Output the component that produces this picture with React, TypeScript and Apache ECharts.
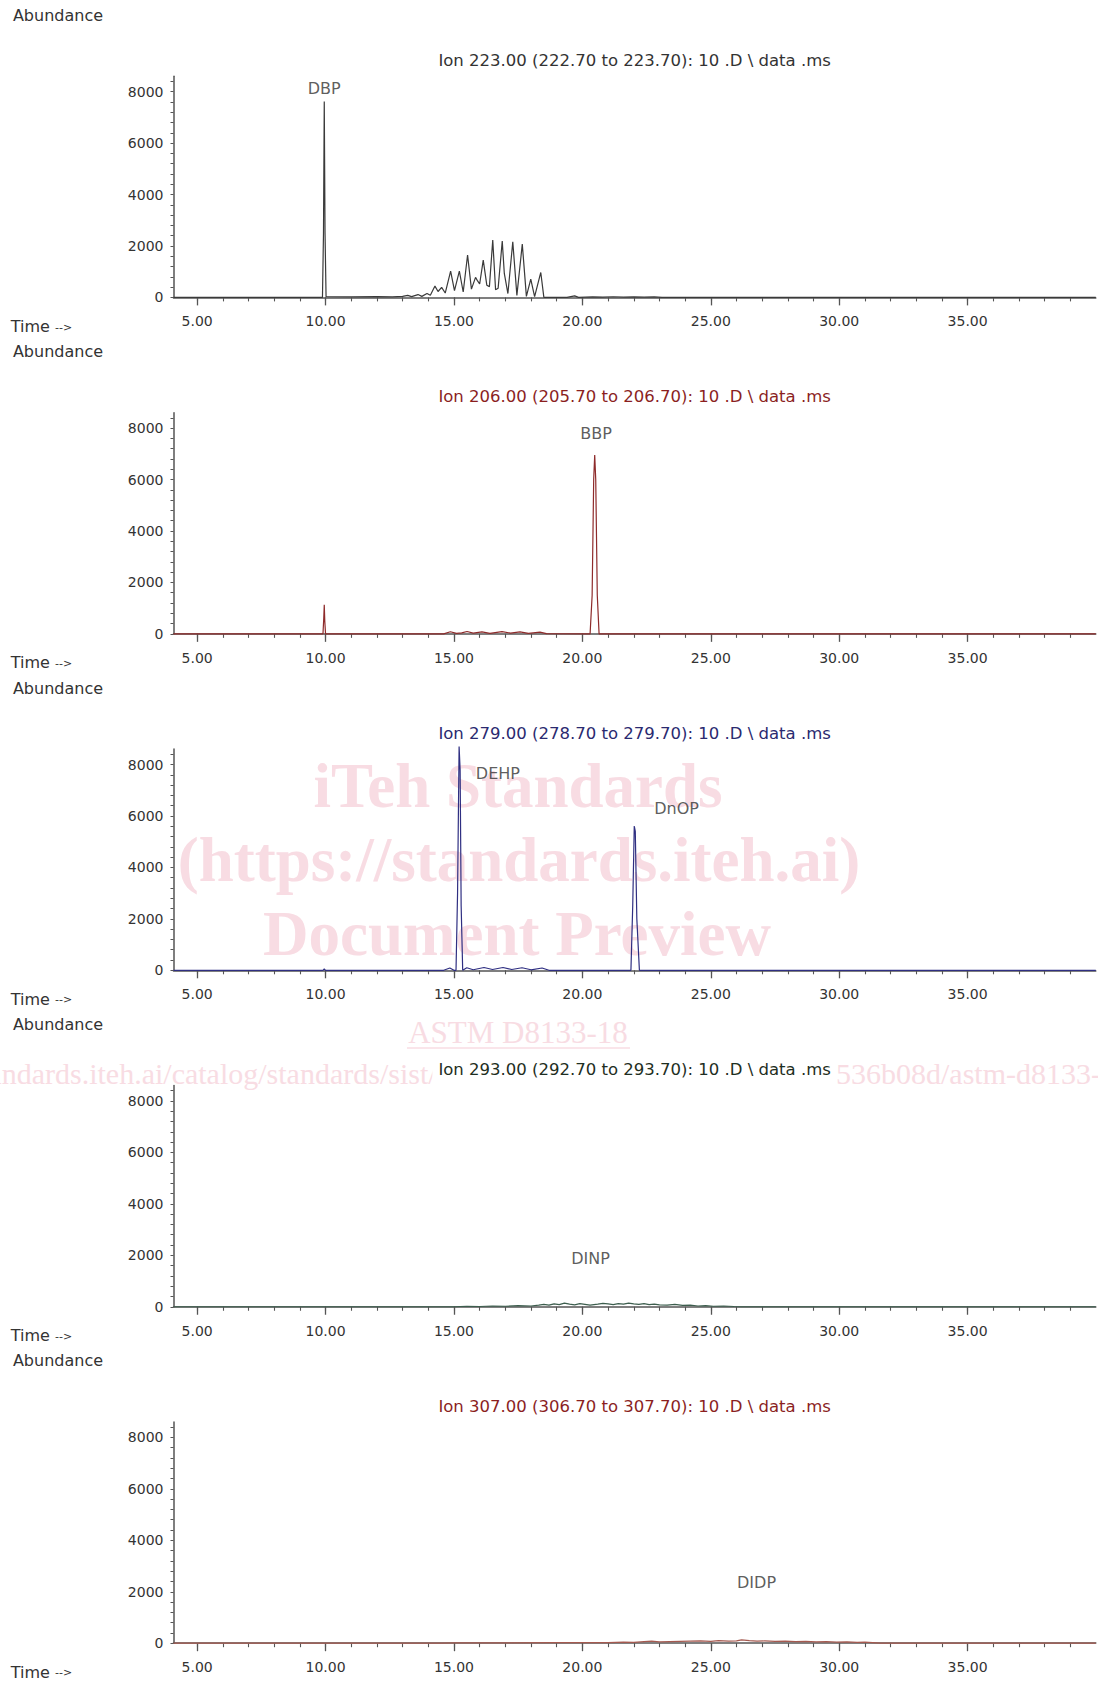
import React, { useEffect, useRef } from "react";
import * as echarts from "echarts";

// ---- axes ----
const TIME_MIN = 4.08;
const TIME_MAX = 39.99;
const ABUND_MAX = 8600;
const majorTimeTicks = [5, 10, 15, 20, 25, 30, 35];
const minorTimeTicks = [5, 6, 7, 8, 9, 10, 11, 12, 13, 14, 15, 16, 17, 18, 19, 20, 21, 22, 23, 24, 25, 26, 27, 28, 29, 30, 31, 32, 33, 34, 35, 36, 37, 38, 39];
const abundanceLabels = [0, 2000, 4000, 6000, 8000];
const abundanceTicks = [0, 400, 800, 1200, 1600, 2000, 2400, 2800, 3200, 3600, 4000, 4400, 4800, 5200, 5600, 6000, 6400, 6800, 7200, 7600, 8000, 8400];

// ---- titles ----
const ionTitles = [
  "Ion 223.00 (222.70 to 223.70): 10 .D \\ data .ms",
  "Ion 206.00 (205.70 to 206.70): 10 .D \\ data .ms",
  "Ion 279.00 (278.70 to 279.70): 10 .D \\ data .ms",
  "Ion 293.00 (292.70 to 293.70): 10 .D \\ data .ms",
  "Ion 307.00 (306.70 to 307.70): 10 .D \\ data .ms",
];

// ---- series: [time (min), abundance] ----
const ion223 = [
  [4.08, 0], [6.0, 0], [8.0, 0], [9.88, 0], [9.92, 2500], [9.95, 7620], [9.98, 2500], [10.02, 30],
  [11.0, 20], [12.0, 30], [12.6, 20], [13.0, 40], [13.2, 80], [13.35, 30], [13.6, 110], [13.75, 40],
  [13.95, 150], [14.08, 80], [14.26, 440], [14.38, 230], [14.52, 390], [14.66, 170], [14.87, 1020],
  [15.02, 260], [15.21, 1020], [15.36, 210], [15.53, 1650], [15.68, 320], [15.84, 780], [15.92, 640],
  [16.0, 520], [16.14, 1450], [16.28, 470], [16.38, 420], [16.51, 2230], [16.62, 300], [16.72, 360],
  [16.88, 2190], [16.96, 930], [17.1, 150], [17.29, 2160], [17.45, 80], [17.66, 2070], [17.82, 40],
  [17.99, 710], [18.14, 30], [18.38, 970], [18.5, 0], [19.4, 0], [19.7, 60], [19.85, 0], [20.4, 20],
  [20.8, 10], [21.2, 25], [21.6, 10], [22.0, 20], [22.4, 10], [22.8, 20], [23.1, 0], [39.99, 0],
];
const ion206 = [
  [4.08, 0], [9.9, 0], [9.93, 600], [9.95, 1130], [9.97, 500], [10.0, 0], [14.6, 0], [14.86, 80],
  [15.1, 20], [15.3, 40], [15.51, 90], [15.75, 30], [16.09, 80], [16.4, 20], [16.87, 90], [17.2, 30],
  [17.57, 80], [17.9, 20], [18.35, 70], [18.6, 10], [20.3, 0], [20.38, 1500], [20.44, 6000],
  [20.48, 6950], [20.52, 6000], [20.58, 1500], [20.65, 0], [39.99, 0],
];
const ion279 = [
  [4.08, 0], [9.9, 0], [9.95, 50], [10.0, 0], [14.6, 0], [14.84, 90], [15.0, 0], [15.08, 0],
  [15.14, 3000], [15.2, 8700], [15.24, 7800], [15.28, 2500], [15.34, 0], [15.5, 100], [15.75, 20],
  [16.17, 110], [16.5, 30], [16.91, 110], [17.25, 30], [17.65, 100], [18.0, 20], [18.43, 90], [18.7, 0],
  [21.89, 0], [21.96, 2500], [22.02, 5610], [22.06, 5400], [22.12, 2000], [22.22, 0], [39.99, 0],
];
const ion293 = [
  [4.08, 0], [15.0, 0], [15.5, 20], [16.0, 10], [16.5, 30], [17.0, 20], [17.5, 40], [18.0, 30],
  [18.3, 60], [18.5, 90], [18.7, 60], [18.9, 110], [19.1, 80], [19.3, 140], [19.5, 100], [19.7, 70],
  [19.9, 120], [20.1, 90], [20.3, 60], [20.6, 100], [20.8, 130], [21.0, 110], [21.2, 80], [21.4, 120],
  [21.6, 100], [21.8, 140], [22.0, 110], [22.2, 90], [22.4, 120], [22.6, 80], [22.8, 100], [23.0, 70],
  [23.3, 60], [23.6, 90], [23.9, 50], [24.2, 60], [24.5, 30], [24.8, 40], [25.1, 20], [25.5, 30],
  [25.9, 10], [26.2, 0], [39.99, 0],
];
const ion307 = [
  [4.08, 0], [14.5, 0], [15.0, 10], [17.0, 15], [19.0, 20], [21.0, 20], [21.6, 40], [22.0, 30],
  [22.4, 60], [22.7, 80], [23.0, 50], [23.4, 60], [23.8, 70], [24.2, 80], [24.6, 90], [25.0, 70],
  [25.3, 100], [25.7, 80], [26.0, 90], [26.2, 130], [26.5, 100], [26.8, 80], [27.1, 90], [27.5, 70],
  [27.9, 80], [28.3, 60], [28.7, 70], [29.1, 50], [29.5, 60], [29.9, 40], [30.3, 50], [30.7, 30],
  [31.0, 40], [31.3, 20], [31.6, 0], [39.99, 0],
];
const ionSeries = [ion223, ion206, ion279, ion293, ion307];

// ---- peak labels: [time, abundance, name] ----
const peaks223 = [[9.95, 8120, "DBP"]];
const peaks206 = [[20.53, 7790, "BBP"]];
const peaks279 = [[16.71, 7670, "DEHP"], [23.67, 6280, "DnOP"]];
const peaks293 = [[20.32, 1890, "DINP"]];
const peaks307 = [[26.78, 2350, "DIDP"]];
const peakSets = [peaks223, peaks206, peaks279, peaks293, peaks307];

// ---- styles ----
const lineColors = ["#3a3a3a", "#8e2b2b", "#2f2f82", "#3d5e4e", "#a55a50"];
const titleColors = ["#333333", "#8b1f1f", "#2a2a70", "#1e2e22", "#8b1f1f"];
const FONT = "DejaVu Sans";
const SERIF = "Liberation Serif";
const WM = "#f8dce3";

const PITCH = 336.45;
const FIRST_ZERO = 297.4;
const PLOT_LEFT = 173.5;
const PLOT_RIGHT = 2.2;
const PLOT_H = 221.2;

function buildOption() {
  const grid: any[] = [];
  const xAxis: any[] = [];
  const yAxis: any[] = [];
  const series: any[] = [];
  const title: any[] = [];
  const graphic: any[] = [];

  // watermark (under everything)
  const wmText = (text: string, x: number, y: number, size: number, bold: boolean, align = "center") => ({
    type: "text",
    x,
    y,
    z: -10,
    silent: true,
    style: {
      text,
      fill: WM,
      fontSize: size,
      fontFamily: SERIF,
      fontWeight: bold ? "bold" : "normal",
      textAlign: align,
      textVerticalAlign: "middle",
    },
  });
  graphic.push(wmText("iTeh Standards", 518, 786, 63, true));
  graphic.push(wmText("(https://standards.iteh.ai)", 519, 860, 63, true));
  graphic.push(wmText("Document Preview", 517, 934, 63, true));
  graphic.push(wmText("ASTM D8133-18", 518, 1032, 31, false));
  graphic.push({
    type: "line",
    z: -10,
    silent: true,
    shape: { x1: 407, y1: 1048, x2: 630, y2: 1048 },
    style: { stroke: WM, lineWidth: 1.5 },
  });
  graphic.push(wmText("https://standards.iteh.ai/catalog/standards/sist/", -115, 1073, 30, false, "left"));
  graphic.push(wmText("536b08d/astm-d8133-18", 836, 1073, 30, false, "left"));

  for (let i = 0; i < 5; i++) {
    const zero = FIRST_ZERO + PITCH * i;
    grid.push({ left: PLOT_LEFT, right: PLOT_RIGHT, top: zero - PLOT_H, height: PLOT_H, containLabel: false });
    const axisLine = { show: true, lineStyle: { color: "#555555", width: 1.5 } };
    xAxis.push({
      type: "value",
      gridIndex: i,
      position: "bottom",
      min: TIME_MIN,
      max: TIME_MAX,
      axisLine,
      splitLine: { show: false },
      axisTick: { show: true, customValues: majorTimeTicks, length: 8, lineStyle: { color: "#555555", width: 1.3 } },
      axisLabel: {
        show: true,
        customValues: majorTimeTicks,
        formatter: (v: number) => v.toFixed(2),
        color: "#333333",
        fontSize: 14,
        fontFamily: FONT,
        margin: 17,
      },
    });
    xAxis.push({
      type: "value",
      gridIndex: i,
      position: "bottom",
      min: TIME_MIN,
      max: TIME_MAX,
      axisLine: { show: false },
      splitLine: { show: false },
      axisTick: { show: true, customValues: minorTimeTicks, length: 4, lineStyle: { color: "#555555", width: 1.1 } },
      axisLabel: { show: false },
    });
    yAxis.push({
      type: "value",
      gridIndex: i,
      position: "left",
      min: 0,
      max: ABUND_MAX,
      axisLine,
      splitLine: { show: false },
      axisTick: { show: true, customValues: abundanceTicks, length: 3, lineStyle: { color: "#555555", width: 1 } },
      axisLabel: {
        show: true,
        customValues: abundanceLabels,
        formatter: (v: number) => String(Math.round(v)),
        color: "#333333",
        fontSize: 14,
        fontFamily: FONT,
        margin: 10,
      },
    });
    series.push({
      type: "line",
      xAxisIndex: i * 2,
      yAxisIndex: i,
      data: ionSeries[i],
      showSymbol: false,
      symbol: "none",
      clip: false,
      z: 3,
      lineStyle: { color: lineColors[i], width: 1.2 },
    });
    series.push({
      type: "scatter",
      xAxisIndex: i * 2,
      yAxisIndex: i,
      data: peakSets[i],
      symbol: "circle",
      symbolSize: 1,
      itemStyle: { color: "rgba(0,0,0,0)" },
      z: 4,
      label: {
        show: true,
        position: "inside",
        formatter: (p: any) => p.data[2],
        color: "#333333",
        fontSize: 16,
        fontFamily: FONT,
      },
    });
    title.push({
      text: ionTitles[i],
      left: 634.6 - 6,
      top: 60.3 + PITCH * i - 1 - 8.5,
      textAlign: "center",
      padding: [1, 6, 1, 6],
      backgroundColor: "#ffffff",
      textStyle: { color: titleColors[i], fontSize: 16.5, fontWeight: "normal", fontFamily: FONT },
    });
    graphic.push({
      type: "text",
      x: 12.9,
      y: 15.1 + PITCH * i,
      z: 5,
      style: { text: "Abundance", fill: "#333333", fontSize: 16, fontFamily: FONT, textAlign: "left", textVerticalAlign: "middle" },
    });
    graphic.push({
      type: "text",
      x: 10.8,
      y: 326.5 + PITCH * i,
      z: 5,
      style: { text: "Time", fill: "#333333", fontSize: 16, fontFamily: FONT, textAlign: "left", textVerticalAlign: "middle" },
    });
    graphic.push({
      type: "text",
      x: 55,
      y: 327 + PITCH * i,
      z: 5,
      style: { text: "-->", fill: "#333333", fontSize: 11, fontFamily: FONT, textAlign: "left", textVerticalAlign: "middle" },
    });
  }

  return {
    animation: false,
    backgroundColor: "#ffffff",
    title,
    grid,
    xAxis,
    yAxis,
    series,
    graphic: { elements: graphic },
  };
}

export default function App() {
  const ref = useRef<HTMLDivElement>(null);
  useEffect(() => {
    document.body.style.margin = "0";
    if (!ref.current) return;
    const chart = echarts.init(ref.current, undefined, { renderer: "svg" });
    chart.setOption(buildOption() as any);
    return () => chart.dispose();
  }, []);
  return <div ref={ref} style={{ width: 1098, height: 1689 }} />;
}
